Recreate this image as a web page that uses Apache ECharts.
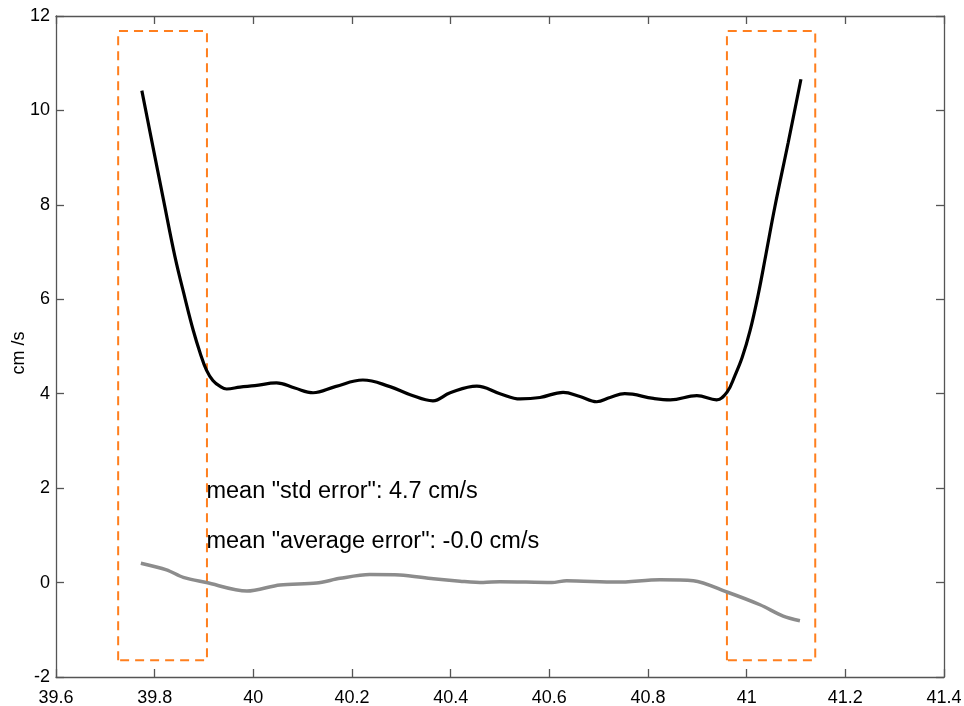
<!DOCTYPE html>
<html>
<head>
<meta charset="utf-8">
<script src="https://cdn.jsdelivr.net/npm/echarts@6/dist/echarts.min.js"></script>
<style>html,body{margin:0;padding:0;background:#fff;}#c{width:964px;height:706px;}</style>
</head>
<body>
<div id="c"></div>
<script>
// Axis settings
const xMin = 39.6, xMax = 41.4, xStep = 0.2;
const yMin = -2, yMax = 12, yStep = 2;
const yAxisName = 'cm /s';

// Black curve: std error
const stdX = [39.774, 39.791, 39.818, 39.841, 39.862, 39.878, 39.892, 39.905, 39.918, 39.932, 39.946, 39.973, 40.003, 40.047, 40.084, 40.121, 40.166, 40.222, 40.277, 40.318, 40.364, 40.399, 40.453, 40.500, 40.541, 40.581, 40.628, 40.662, 40.696, 40.723, 40.753, 40.811, 40.845, 40.899, 40.939, 40.960, 40.976, 40.991, 41.007, 41.023, 41.039, 41.057, 41.084, 41.110];
const stdY = [10.42, 9.52, 8.10, 6.91, 6.00, 5.35, 4.87, 4.50, 4.28, 4.16, 4.10, 4.14, 4.17, 4.23, 4.12, 4.02, 4.15, 4.29, 4.15, 3.98, 3.85, 4.02, 4.16, 4.00, 3.89, 3.92, 4.03, 3.94, 3.83, 3.92, 4.00, 3.90, 3.87, 3.96, 3.87, 4.03, 4.38, 4.77, 5.34, 6.08, 6.95, 7.95, 9.31, 10.66];

// Gray curve: average error
const avgX = [39.772, 39.824, 39.858, 39.905, 39.987, 40.054, 40.128, 40.176, 40.236, 40.297, 40.365, 40.419, 40.466, 40.500, 40.605, 40.635, 40.737, 40.824, 40.892, 40.960, 41.027, 41.074, 41.108];
const avgY = [0.41, 0.27, 0.11, 0.00, -0.18, -0.05, -0.01, 0.09, 0.17, 0.16, 0.08, 0.03, 0.00, 0.02, 0.00, 0.04, 0.01, 0.06, 0.04, -0.20, -0.47, -0.71, -0.81];

// Dashed boxes [xLeft, xRight, yBottom, yTop]
const leftBox = [39.726, 39.906, -1.646, 11.68];
const rightBox = [40.960, 41.139, -1.646, 11.68];

// Annotations [x, y, text]
const notes = [
  [39.905, 1.92, 'mean "std error": 4.7 cm/s'],
  [39.905, 0.87, 'mean "average error": -0.0 cm/s']
];

function zip(xs, ys) { return xs.map((x, i) => [x, ys[i]]); }
function boxPts(b) { return [[b[0], b[2]], [b[0], b[3]], [b[1], b[3]], [b[1], b[2]], [b[0], b[2]]]; }
const fmt = v => String(+(+v).toFixed(1));

const axisLineStyle = { color: '#555', width: 1.3 };
const font = 'Liberation Sans, Arial, Helvetica, sans-serif';

const chart = echarts.init(document.getElementById('c'));
chart.setOption({
  animation: false,
  backgroundColor: '#fff',
  grid: { left: 56, right: 20, top: 16, bottom: 29, containLabel: false, outerBoundsMode: 'none' },
  graphic: [
    { type: 'text', x: 19, y: 353, rotation: Math.PI / 2, silent: true,
      style: { text: yAxisName, fill: '#000', fontSize: 18, fontFamily: font,
               align: 'center', verticalAlign: 'middle' } }
  ],
  xAxis: [
    { type: 'value', min: xMin, max: xMax, interval: xStep, position: 'bottom',
      axisLine: { show: true, onZero: false, lineStyle: axisLineStyle },
      axisTick: { show: true, inside: true, length: 8, lineStyle: axisLineStyle },
      axisLabel: { formatter: fmt, color: '#000', fontSize: 18, fontFamily: font, margin: 12 },
      splitLine: { show: false } },
    { type: 'value', min: xMin, max: xMax, interval: xStep, position: 'top',
      axisLine: { show: true, onZero: false, lineStyle: axisLineStyle },
      axisTick: { show: true, inside: true, length: 8, lineStyle: axisLineStyle },
      axisLabel: { show: false }, splitLine: { show: false } }
  ],
  yAxis: [
    { type: 'value', min: yMin, max: yMax, interval: yStep, position: 'left',
      axisLine: { show: true, onZero: false, lineStyle: axisLineStyle },
      axisTick: { show: true, inside: true, length: 8, lineStyle: axisLineStyle },
      axisLabel: { formatter: fmt, color: '#000', fontSize: 18, fontFamily: font, margin: 6 },
      splitLine: { show: false } },
    { type: 'value', min: yMin, max: yMax, interval: yStep, position: 'right',
      axisLine: { show: true, onZero: false, lineStyle: axisLineStyle },
      axisTick: { show: true, inside: true, length: 8, lineStyle: axisLineStyle },
      axisLabel: { show: false }, splitLine: { show: false } }
  ],
  series: [
    { type: 'line', data: boxPts(leftBox), symbol: 'none', silent: true,
      lineStyle: { color: '#ff7f1e', width: 2, type: [9, 6] } },
    { type: 'line', data: boxPts(rightBox), symbol: 'none', silent: true,
      lineStyle: { color: '#ff7f1e', width: 2, type: [9, 6] } },
    { type: 'line', data: zip(avgX, avgY), symbol: 'none', smooth: 0.3,
      lineStyle: { color: '#8c8c8c', width: 3.5 } },
    { type: 'line', data: zip(stdX, stdY), symbol: 'none', smooth: 0.4,
      lineStyle: { color: '#000', width: 3.2 } },
    { type: 'scatter', symbolSize: 0, silent: true,
      itemStyle: { opacity: 1 },
      data: notes.map(n => ({ value: [n[0], n[1]], name: n[2] })),
      label: { show: true, position: 'right', distance: 0, formatter: p => p.name,
               color: '#000', opacity: 1, fontSize: 23.5, fontFamily: font } }
  ]
});
</script>
</body>
</html>
